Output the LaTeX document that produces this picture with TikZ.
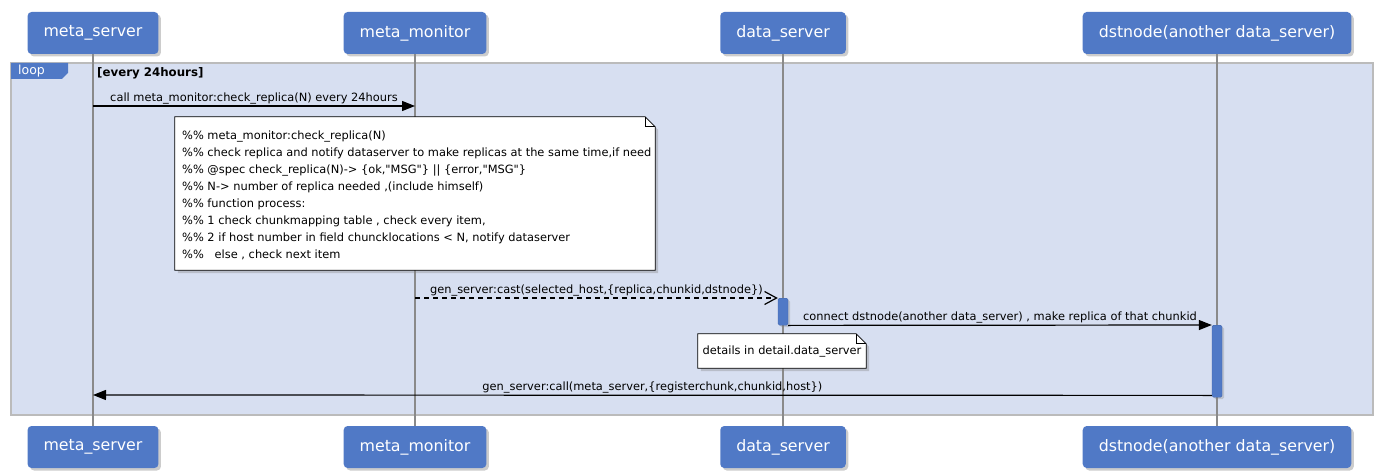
\documentclass[tikz,border=0pt]{standalone}
\usepackage{fontspec}
\setmainfont{DejaVu Sans}[Ligatures=TeXOff]
\usetikzlibrary{arrows.meta,shadows,calc}

\definecolor{boxblue}{HTML}{5079C6}
\definecolor{loopfill}{HTML}{D7DFF1}
\definecolor{loopline}{HTML}{BBBBBB}
\definecolor{lifegray}{HTML}{8A8A8A}

\tikzset{
  actor/.style={rectangle, rounded corners=4pt, fill=boxblue, text=white,
    font=\fontsize{15.8}{18}\selectfont, inner xsep=16pt, minimum height=42pt,
    drop shadow={shadow xshift=2.5pt, shadow yshift=-2.5pt, opacity=0.4}},
  lifeline/.style={draw=lifegray, line width=1.1pt},
  activation/.style={rectangle, rounded corners=1.5pt, fill=boxblue, draw=boxblue!85!black,
    line width=0.4pt, minimum width=10pt, inner sep=0pt,
    drop shadow={shadow xshift=2pt, shadow yshift=-2pt, opacity=0.3}},
  msg/.style={line width=1.2pt, -{Triangle[length=13pt,width=10pt]}},
  reply/.style={line width=1.2pt, dash pattern=on 5pt off 4pt,
    -{Straight Barb[length=12pt,width=13pt,line width=1.2pt]}},
  msglabel/.style={font=\fontsize{11.4}{13}\selectfont, inner sep=0pt, above=1pt},
  notearea/.style={rectangle, inner sep=0pt},
  notebox/.style={draw=black, line width=0.8pt, fill=white,
    drop shadow={shadow xshift=3pt, shadow yshift=-3pt, opacity=0.35}},
  notetext/.style={inner sep=0pt, align=left, font=\fontsize{11.4}{16.95}\selectfont},
  fold/.style={draw=black, line width=0.8pt},
}

\begin{document}
\begin{tikzpicture}[x=1pt,y=-1pt]
  \useasboundingbox (0,0) rectangle (1381,476);

  % loop frame
  \draw[fill=loopfill, draw=loopline, line width=1.5pt] (11,63) rectangle (1373,415);
  \fill[boxblue] (11,63) -- (68,63) -- (68,73) -- (62,79) -- (11,79) -- cycle;
  \node[text=white, font=\fontsize{12.5}{13}\selectfont, anchor=west, inner sep=0pt] (looptag) at (18,71) {loop};
  \node[font=\bfseries\fontsize{11.8}{13}\selectfont, anchor=west, inner sep=0pt] (loopguard) at (97,73) {[every 24hours]};

  % participants
  \node[actor] (ms) at (93,33) {meta\_server};
  \node[actor] (mm) at (415,33) {meta\_monitor};
  \node[actor] (ds) at (783,33) {data\_server};
  \node[actor] (dn) at (1217,33) {dstnode(another data\_server)};
  \node[actor] (msb) at (93,447) {meta\_server};
  \node[actor] (mmb) at (415,447) {meta\_monitor};
  \node[actor] (dsb) at (783,447) {data\_server};
  \node[actor] (dnb) at (1217,447) {dstnode(another data\_server)};

  % lifelines
  \draw[lifeline] (ms) -- (msb);
  \draw[lifeline] (mm) -- (mmb);
  \draw[lifeline] (ds) -- (dsb);
  \draw[lifeline] (dn) -- (dnb);

  \coordinate (m1s) at (93,106);
  \coordinate (m1e) at (415,106);
  \coordinate (m2s) at (415,298);
  \coordinate (m4e) at (93,395);

  \draw[msg] (m1s) -- node[msglabel] {call meta\_monitor:check\_replica(N) every 24hours} (m1e);

  % note on meta_monitor
  \node[notearea, minimum width=480pt, minimum height=153pt] (note1) at (415,193.5) {};
  \draw[notebox] (note1.south west) -- (note1.north west) -- ($(note1.north east)+(-10,0)$)
    -- ($(note1.north east)+(0,10)$) -- (note1.south east) -- cycle;
  \draw[fold] ($(note1.north east)+(-10,0)$) -- ++(0,10) -- ++(10,0);
  \node[notetext, anchor=west] (note1text) at (182,195.4)
    {\%\% meta\_monitor:check\_replica(N)\\
     \%\% check replica and notify dataserver to make replicas at the same time,if need\\
     \%\% @spec check\_replica(N)-> \{ok,"MSG"\} || \{error,"MSG"\}\\
     \%\% N-> number of replica needed ,(include himself)\\
     \%\% function process:\\
     \%\% 1 check chunkmapping table , check every item,\\
     \%\% 2 if host number in field chuncklocations < N, notify dataserver\\
     \%\%\ \ \ else , check next item};

  % activations
  \node[activation, minimum height=27pt, anchor=north] (act1) at (783,298) {};
  \node[activation, minimum height=72pt, anchor=north] (act2) at (1217,325) {};

  \draw[reply] (m2s) -- node[msglabel] {gen\_server:cast(selected\_host,\{replica,chunkid,dstnode\})} (act1.north west);
  \draw[msg] (act1.south east) -- node[msglabel] {connect dstnode(another data\_server) , make replica of that chunkid} (act2.north west);

  % note on data_server
  \node[notearea, minimum width=168pt, minimum height=34pt] (note2) at (782,351) {};
  \draw[notebox] (note2.south west) -- (note2.north west) -- ($(note2.north east)+(-10,0)$)
    -- ($(note2.north east)+(0,10)$) -- (note2.south east) -- cycle;
  \draw[fold] ($(note2.north east)+(-10,0)$) -- ++(0,10) -- ++(10,0);
  \node[notetext] (note2text) at (782,352) {details in detail.data\_server};

  \draw[msg] ([yshift=2pt]act2.south west) -- node[msglabel] {gen\_server:call(meta\_server,\{registerchunk,chunkid,host\})} (m4e);
\end{tikzpicture}
\end{document}
